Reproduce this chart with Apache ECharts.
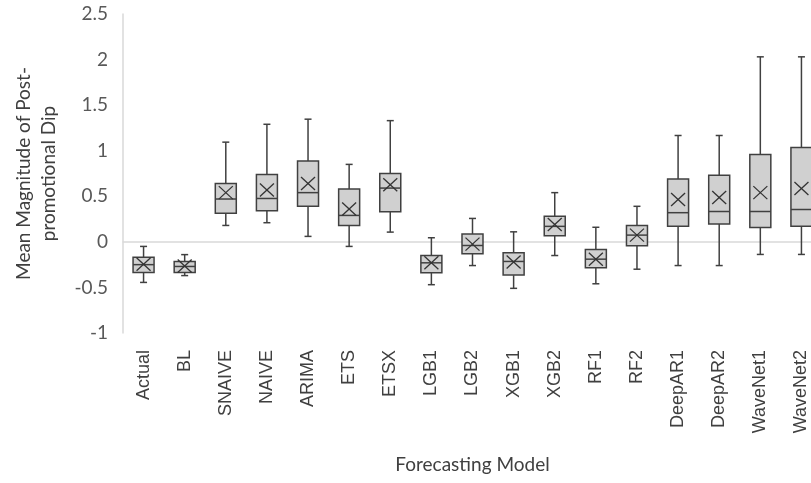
<!DOCTYPE html>
<html>
<head>
<meta charset="utf-8">
<script src="https://cdn.jsdelivr.net/npm/echarts@6/dist/echarts.min.js"></script>
<style>
  html, body { margin: 0; padding: 0; background: #fff; }
  #dip-boxplot { width: 811px; height: 483px; }
</style>
</head>
<body>
<div id="dip-boxplot"></div>
<script>
// models on the x axis
var models = ['Actual', 'BL', 'SNAIVE', 'NAIVE', 'ARIMA', 'ETS', 'ETSX', 'LGB1', 'LGB2',
  'XGB1', 'XGB2', 'RF1', 'RF2', 'DeepAR1', 'DeepAR2', 'WaveNet1', 'WaveNet2'];

// box plot statistics
var whiskerLow  = [-0.445, -0.37, 0.18, 0.21, 0.06, -0.05, 0.107, -0.47, -0.26, -0.51, -0.15, -0.46, -0.30, -0.26, -0.26, -0.138, -0.138];
var quartile1   = [-0.335, -0.335, 0.315, 0.34, 0.39, 0.18, 0.33, -0.34, -0.13, -0.365, 0.067, -0.284, -0.043, 0.17, 0.195, 0.158, 0.17];
var medians     = [-0.25, -0.27, 0.47, 0.476, 0.54, 0.29, 0.59, -0.23, -0.04, -0.215, 0.17, -0.19, 0.074, 0.32, 0.333, 0.333, 0.355];
var quartile3   = [-0.17, -0.215, 0.64, 0.74, 0.886, 0.58, 0.75, -0.15, 0.085, -0.12, 0.28, -0.083, 0.18, 0.69, 0.73, 0.958, 1.035];
var whiskerHigh = [-0.05, -0.14, 1.094, 1.29, 1.346, 0.85, 1.33, 0.045, 0.257, 0.11, 0.54, 0.16, 0.39, 1.167, 1.167, 2.03, 2.03];
var means       = [-0.245, -0.265, 0.54, 0.57, 0.64, 0.36, 0.626, -0.23, -0.025, -0.22, 0.19, -0.19, 0.074, 0.465, 0.487, 0.54, 0.586];

var boxData = models.map(function (m, i) {
  return [i, whiskerLow[i], quartile1[i], medians[i], quartile3[i], whiskerHigh[i], means[i]];
});

var dipChart = echarts.init(document.getElementById('dip-boxplot'));

function renderBox(params, api) {
  var i = api.value(0);
  var pLow = api.coord([i, api.value(1)]);
  var pQ1 = api.coord([i, api.value(2)]);
  var pMed = api.coord([i, api.value(3)]);
  var pQ3 = api.coord([i, api.value(4)]);
  var pHigh = api.coord([i, api.value(5)]);
  var pMean = api.coord([i, api.value(6)]);
  var x = pMed[0];
  var hw = 10.5;   // half box width
  var cw = 3.5;    // half cap width
  var mx = 7, my = 6.5; // mean cross
  var lineStyle = { stroke: '#404040', lineWidth: 1.5 };
  return {
    type: 'group',
    children: [
      { type: 'line', shape: { x1: x, y1: pHigh[1], x2: x, y2: pQ3[1] }, style: lineStyle },
      { type: 'line', shape: { x1: x, y1: pQ1[1], x2: x, y2: pLow[1] }, style: lineStyle },
      { type: 'line', shape: { x1: x - cw, y1: pHigh[1], x2: x + cw, y2: pHigh[1] }, style: lineStyle },
      { type: 'line', shape: { x1: x - cw, y1: pLow[1], x2: x + cw, y2: pLow[1] }, style: lineStyle },
      {
        type: 'rect',
        shape: { x: x - hw, y: pQ3[1], width: hw * 2, height: pQ1[1] - pQ3[1] },
        style: { fill: '#d0d0d0', stroke: '#404040', lineWidth: 1.5 }
      },
      { type: 'line', shape: { x1: x - hw, y1: pMed[1], x2: x + hw, y2: pMed[1] }, style: lineStyle },
      { type: 'line', shape: { x1: x - mx, y1: pMean[1] - my, x2: x + mx, y2: pMean[1] + my }, style: { stroke: '#333', lineWidth: 1.3 } },
      { type: 'line', shape: { x1: x - mx, y1: pMean[1] + my, x2: x + mx, y2: pMean[1] - my }, style: { stroke: '#333', lineWidth: 1.3 } }
    ]
  };
}

var dipOption = {
  animation: false,
  // plot runs past the right edge of the page, as in the original
  grid: { left: 123, width: 699, top: 14, bottom: 150, outerBoundsMode: 'none' },
  xAxis: {
    type: 'category',
    data: models,
    name: 'Forecasting Model',
    nameLocation: 'middle',
    nameGap: 122,
    nameTextStyle: { fontFamily: 'Lato', fontSize: 19, color: '#404040' },
    axisLine: { lineStyle: { color: '#d9d9d9', width: 1.5 } },
    axisTick: { show: false },
    axisLabel: {
      interval: 0, rotate: 90, margin: 17,
      fontFamily: 'Liberation Sans', fontSize: 18, color: '#404040'
    },
    splitLine: { show: false }
  },
  yAxis: {
    type: 'value',
    min: -1, max: 2.5, interval: 0.5,
    name: 'Mean Magnitude of Post-\npromotional Dip',
    nameLocation: 'middle',
    nameRotate: 90,
    nameGap: 62,
    nameTextStyle: { fontFamily: 'Lato', fontSize: 19, color: '#404040', lineHeight: 25 },
    axisLine: { show: true, lineStyle: { color: '#d9d9d9', width: 1.5 } },
    axisTick: { show: false },
    axisLabel: { margin: 15, fontFamily: 'Lato', fontSize: 19, color: '#595959' },
    splitLine: { show: false }
  },
  series: [{
    type: 'custom',
    renderItem: renderBox,
    encode: { x: 0, y: [1, 2, 3, 4, 5, 6] },
    data: boxData
  }]
};

dipChart.setOption(dipOption);
</script>
</body>
</html>
